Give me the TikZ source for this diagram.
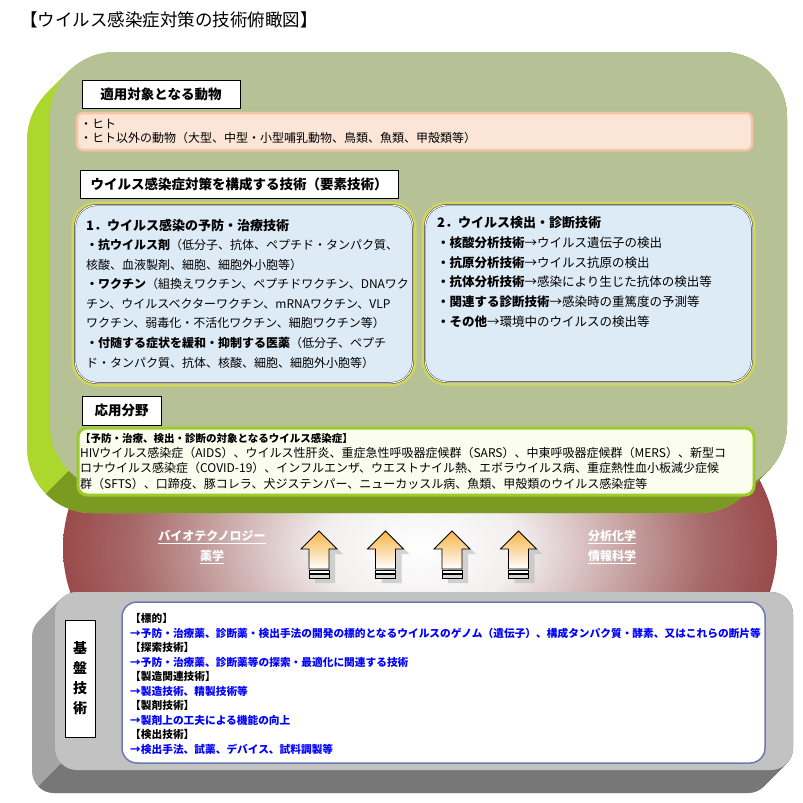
\documentclass[tikz,border=0pt]{standalone}
\usepackage{fontspec}
\setmainfont{Noto Sans CJK JP}
\usepackage{tikz}
\definecolor{facegreen}{HTML}{B6C296}
\definecolor{sidegreen}{HTML}{ACD82E}
\definecolor{lowgreen}{HTML}{7A9A22}
\definecolor{pinkfill}{HTML}{FBE5D6}
\definecolor{pinkline}{HTML}{F6C6A4}
\definecolor{bluefill}{HTML}{DDEBF7}
\definecolor{glowline}{HTML}{D2D65C}
\definecolor{ivoryfill}{HTML}{FBFDEF}
\definecolor{limeline}{HTML}{9ACD2A}
\definecolor{reddark}{HTML}{841616}
\definecolor{redmid}{HTML}{A86A6A}
\definecolor{redpale}{HTML}{F2EEEE}
\definecolor{grayface}{HTML}{C2C2C2}
\definecolor{grayside}{HTML}{A4A4A4}
\definecolor{graylow}{HTML}{777777}
\definecolor{frameblue}{HTML}{6E78B4}
\definecolor{arrowtop}{HTML}{F7B448}
\definecolor{arrowmid}{HTML}{FCE3A0}
\pgfdeclareradialshading{redglow}{\pgfpoint{0bp}{0bp}}{color(0bp)=(white); color(7bp)=(redpale); color(20bp)=(redmid); color(33bp)=(reddark); color(50bp)=(reddark)}

\begin{document}
\begin{tikzpicture}[x=1pt,y=-1pt,
  headbox/.style={draw=black,fill=white,line width=.9pt,inner sep=0pt,minimum height=28pt,font=\fontsize{13.5}{16}\selectfont\bfseries},
  textblock/.style={anchor=north west,inner sep=0pt,align=left},
  oneline/.style={anchor=west,inner sep=0pt},
  fieldname/.style={inner sep=0pt,text=white,font=\fontsize{12}{14}\selectfont\bfseries}]
\useasboundingbox (0,0) rectangle (803,803);

% title
\node[oneline,font=\fontsize{17.5}{20}\selectfont] (title) at (20,20) {【ウイルス感染症対策の技術俯瞰図】};

% red base under the two blocks
\shade[shading=redglow] (420,548) ellipse [x radius=357pt, y radius=220pt];

% green block
\foreach \d in {0,1,...,23}
  \fill[sidegreen,rounded corners=65pt] ({50-\d},{52+\d}) rectangle ({787-\d},{490+\d});
\begin{scope}
  \clip (0,540) -- (540,0) -- (803,0) -- (803,803) -- (0,803) -- cycle;
  \foreach \d in {0,1,...,23}
    \fill[lowgreen,rounded corners=65pt] ({50-\d},{52+\d}) rectangle ({787-\d},{490+\d});
\end{scope}
\fill[facegreen,rounded corners=65pt] (50,52) rectangle (787,490);

% animals
\node[headbox,minimum width=158pt] (animalhead) at (161,94) {適用対象となる動物};
\draw[pinkline,fill=pinkfill,line width=2.5pt,rounded corners=6pt] (77,113) rectangle (752,150);
\node[textblock,font=\fontsize{12}{14}\selectfont] (animals) at (80,119) {・ヒト\\・ヒト以外の動物（大型、中型・小型哺乳動物、鳥類、魚類、甲殻類等）};

% element technologies
\node[headbox,minimum width=318pt] (techhead) at (239,184) {ウイルス感染症対策を構成する技術（要素技術）};
\draw[glowline,line width=7pt,rounded corners=22pt] (75,205) rectangle (413,383);
\draw[fill=bluefill,draw=black!85,double=white,double distance=1pt,rounded corners=22pt] (75,205) rectangle (413,383);
\draw[glowline,line width=7pt,rounded corners=22pt] (425,205) rectangle (752,382);
\draw[fill=bluefill,draw=black!85,double=white,double distance=1pt,rounded corners=22pt] (425,205) rectangle (752,382);

\node[oneline,font=\fontsize{13}{16}\selectfont\bfseries] (cure) at (86,225) {1．ウイルス感染の予防・治療技術};
\node[textblock,font=\fontsize{12}{19.6}\selectfont] (curelist) at (86,239) {%
\textbf{・抗ウイルス剤}（低分子、抗体、ペプチド・タンパク質、\\
核酸、血液製剤、細胞、細胞外小胞等）\\
\textbf{・ワクチン}（組換えワクチン、ペプチドワクチン、DNAワク\\
チン、ウイルスベクターワクチン、mRNAワクチン、VLP\\
ワクチン、弱毒化・不活化ワクチン、細胞ワクチン等）\\
\textbf{・付随する症状を緩和・抑制する医薬}（低分子、ペプチ\\
ド・タンパク質、抗体、核酸、細胞、細胞外小胞等）};

\node[oneline,font=\fontsize{13}{16}\selectfont\bfseries] (detect) at (437,223) {2．ウイルス検出・診断技術};
\node[textblock,font=\fontsize{12.5}{19.6}\selectfont] (detectlist) at (437,236.75) {%
\textbf{・核酸分析技術}→ウイルス遺伝子の検出\\
\textbf{・抗原分析技術}→ウイルス抗原の検出\\
\textbf{・抗体分析技術}→感染により生じた抗体の検出等\\
\textbf{・関連する診断技術}→感染時の重篤度の予測等\\
\textbf{・その他}→環境中のウイルスの検出等};

% application field
\node[headbox,minimum width=79pt,minimum height=29pt] (usehead) at (121.5,410.5) {応用分野};
\draw[limeline,fill=ivoryfill,line width=3pt,rounded corners=9pt] (78,428) rectangle (754,495);
\node[oneline,font=\fontsize{10.5}{12}\selectfont\bfseries] (diseasehead) at (80,438) {【予防・治療、検出・診断の対象となるウイルス感染症】};
\node[textblock,font=\fontsize{12}{15.5}\selectfont] (diseases) at (80,447) {%
HIVウイルス感染症（AIDS）、ウイルス性肝炎、重症急性呼吸器症候群（SARS）、中東呼吸器症候群（MERS）、新型コ\\
ロナウイルス感染症（COVID-19）、インフルエンザ、ウエストナイル熱、エボラウイルス病、重症熱性血小板減少症候\\
群（SFTS）、口蹄疫、豚コレラ、犬ジステンパー、ニューカッスル病、魚類、甲殻類のウイルス感染症等};

% arrows
\foreach \x in {319,385.5,452,518.5} {
  \fill[gray!55,opacity=.6,shift={(6,5)}] (\x,531) -- ({\x+18},549) -- ({\x+10},549) -- ({\x+10},578) -- ({\x-10},578) -- ({\x-10},549) -- ({\x-18},549) -- cycle;
  \shade[top color=arrowtop,middle color=arrowmid,bottom color=white,draw=black,line width=.8pt]
    (\x,531) -- ({\x+18},549) -- ({\x+10},549) -- ({\x+10},569) -- ({\x-10},569) -- ({\x-10},549) -- ({\x-18},549) -- cycle;
  \draw[fill=white,line width=.8pt] ({\x-10},570.5) rectangle ({\x+10},573);
  \draw[fill=gray!30,line width=.8pt] ({\x-10},574.5) rectangle ({\x+10},578);
}
\node[fieldname] (bio) at (212,537) {\underline{バイオテクノロジー}};
\node[fieldname] (pharma) at (212,557) {\underline{薬学}};
\node[fieldname] (chem) at (612,537) {\underline{分析化学}};
\node[fieldname] (info) at (612,557) {\underline{情報科学}};

% gray block
\foreach \d in {0,1,...,23}
  \fill[grayside,rounded corners=22pt] ({55-\d},{592+\d}) rectangle ({793-\d},{770+\d});
\begin{scope}
  \clip (0,825) -- (825,0) -- (803,803) -- cycle;
  \foreach \d in {0,1,...,23}
    \fill[graylow,rounded corners=22pt] ({55-\d},{592+\d}) rectangle ({793-\d},{770+\d});
\end{scope}
\fill[grayface,rounded corners=22pt] (55,592) rectangle (793,770);

\draw[fill=white,draw=black,line width=1pt] (65,620) rectangle (95,737);
\node[inner sep=0pt,align=center,font=\fontsize{14}{20}\selectfont\bfseries] (base) at (80,678.5) {基\\盤\\技\\術};
\draw[fill=white,draw=frameblue,line width=1.5pt,rounded corners=15pt] (122,602) rectangle (765,763);
\node[textblock,font=\fontsize{10.7}{14.5}\selectfont\bfseries] (baselist) at (130,613.6) {%
【標的】\\
\textcolor{blue}{→予防・治療薬、診断薬・検出手法の開発の標的となるウイルスのゲノム（遺伝子）、構成タンパク質・酵素、又はこれらの断片等}\\
【探索技術】\\
\textcolor{blue}{→予防・治療薬、診断薬等の探索・最適化に関連する技術}\\
【製造関連技術】\\
\textcolor{blue}{→製造技術、精製技術等}\\
【製剤技術】\\
\textcolor{blue}{→製剤上の工夫による機能の向上}\\
【検出技術】\\
\textcolor{blue}{→検出手法、試薬、デバイス、試料調製等}};
\end{tikzpicture}
\end{document}
